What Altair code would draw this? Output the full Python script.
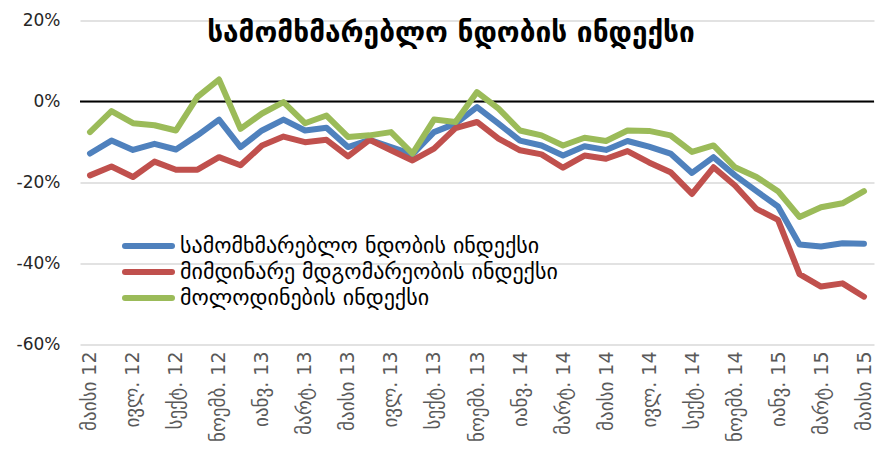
import altair as alt
import pandas as pd
import json

# Tick labels (every second month, May 2012 .. May 2015)
tick_labels = ["მაისი 12", "ივლ. 12", "სექტ. 12", "ნოემბ. 12", "იანვ. 13", "მარტ. 13",
               "მაისი 13", "ივლ. 13", "სექტ. 13", "ნოემბ. 13", "იანვ. 14", "მარტ. 14",
               "მაისი 14", "ივლ. 14", "სექტ. 14", "ნოემბ. 14", "იანვ. 15", "მარტ. 15",
               "მაისი 15"]
month_index = list(range(37))

series_names = ["სამომხმარებლო ნდობის ინდექსი",
                "მიმდინარე მდგომარეობის ინდექსი",
                "მოლოდინების ინდექსი"]
series_colors = ["#4F81BD", "#C0504D", "#9BBB59"]

confidence = [-12.9, -9.7, -12.0, -10.5, -11.9, -8.4, -4.5, -11.3, -7.2, -4.5, -7.2, -6.5,
              -11.3, -9.5, -11.3, -13.1, -7.6, -5.5, -1.4, -5.5, -9.7, -10.9, -13.4, -11.1,
              -12.0, -9.8, -11.2, -12.9, -17.7, -13.8, -18.3, -22.2, -26.0, -35.4, -35.9,
              -35.1, -35.2]
current = [-18.3, -16.1, -18.7, -14.9, -16.9, -16.9, -13.8, -15.8, -10.9, -8.7, -10.1, -9.5,
           -13.6, -9.5, -12.1, -14.6, -11.7, -6.6, -5.1, -9.2, -12.1, -13.1, -16.4, -13.4,
           -14.2, -12.3, -15.1, -17.5, -22.9, -16.3, -20.8, -26.6, -29.3, -42.7, -45.8,
           -45.0, -48.3]
expectations = [-7.6, -2.4, -5.4, -5.9, -7.2, 1.1, 5.4, -6.8, -3.0, -0.2, -5.4, -3.5,
                -8.8, -8.4, -7.6, -12.9, -4.5, -5.1, 2.3, -1.8, -7.2, -8.4, -10.9, -9.0,
                -9.8, -7.2, -7.3, -8.4, -12.5, -10.9, -16.3, -18.7, -22.2, -28.6, -26.2,
                -25.2, -22.2]

chart_title = "სამომხმარებლო ნდობის ინდექსი"

rows = []
for name, vals in zip(series_names, [confidence, current, expectations]):
    for i, v in zip(month_index, vals):
        rows.append({"idx": i, "value": v, "series": name})
df = pd.DataFrame(rows)
legend_df = pd.DataFrame({"series": series_names})

FONT = "DejaVu Sans"
label_expr = json.dumps(tick_labels, ensure_ascii=False) + "[round(datum.value/2)]"

color = alt.Color("series:N", scale=alt.Scale(domain=series_names, range=series_colors),
                  legend=None)

x = alt.X("idx:Q",
          scale=alt.Scale(domain=[-0.465, 36.465], nice=False, zero=False),
          axis=alt.Axis(values=list(range(0, 37, 2)), labelExpr=label_expr,
                        labelAngle=-90, labelFontSize=19, labelColor="#595959",
                        labelFont=FONT, labelPadding=7, ticks=False, domain=False,
                        grid=False, title=None, labelOverlap=False, labelBound=False,
                        labelFlush=False))
y = alt.Y("value:Q",
          scale=alt.Scale(domain=[-60, 20], nice=False),
          axis=alt.Axis(values=[-60, -40, -20, 0, 20], labelExpr="datum.value + '%'",
                        labelFontSize=17, labelColor="#262626", labelFont=FONT,
                        labelPadding=20, ticks=False, domain=False, grid=True,
                        gridColor="#D9D9D9", gridWidth=1.5, title=None))

lines = alt.Chart(df).mark_line(strokeWidth=6, strokeCap="round", strokeJoin="round").encode(
    x=x, y=y, color=color, order=alt.Order("idx:Q")
)

zero = alt.Chart(pd.DataFrame({"z": [0]})).mark_rule(color="#000000", strokeWidth=2).encode(
    y=alt.Y("z:Q", scale=alt.Scale(domain=[-60, 20], nice=False), axis=None)
)

leg_y = alt.Y("series:N", sort=series_names,
              scale=alt.Scale(type="point", domain=series_names, range=[225.5, 277.5], padding=0),
              axis=None)
leg_lines = alt.Chart(legend_df).mark_rule(strokeWidth=6, strokeCap="round").encode(
    x=alt.value(45), x2=alt.value(92), y=leg_y, color=color
)
leg_text = alt.Chart(legend_df).mark_text(
    font=FONT, fontSize=22, color="#000000", align="left", baseline="middle"
).encode(x=alt.value(100), y=leg_y, text="series:N")

title = alt.Chart(pd.DataFrame({"t": [chart_title]})).mark_text(
    font=FONT, fontSize=28, fontWeight="bold", color="#000000", align="center", baseline="middle"
).encode(text="t:N", x=alt.value(371), y=alt.value(13))

chart = alt.layer(zero, lines, leg_lines, leg_text, title).resolve_scale(
    y="independent"
).properties(
    width=794, height=323.5,
    autosize=alt.AutoSizeParams(type="none"),
    padding={"left": 72, "top": 12.5, "right": 1, "bottom": 108}
).configure_view(stroke=None)

chart.save("out.html", embed_options={"renderer": "svg", "actions": False})
